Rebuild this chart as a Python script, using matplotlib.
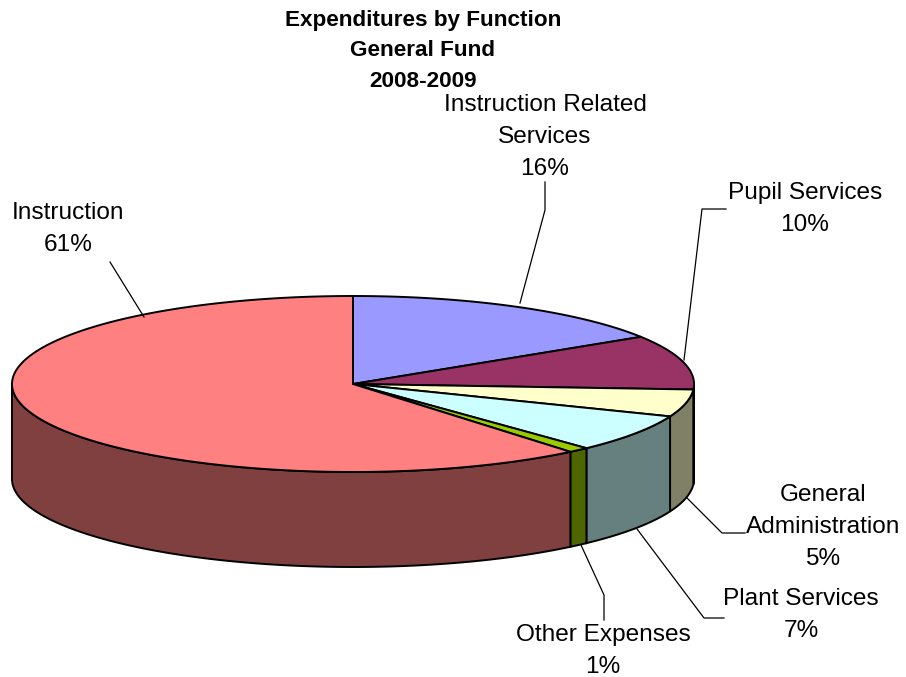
import numpy as np
import matplotlib
matplotlib.use('Agg')
import matplotlib.pyplot as plt
from matplotlib.patches import Polygon

plt.rcParams['font.family'] = ['Liberation Sans', 'DejaVu Sans']

# Data
categories = ['Instruction Related\nServices', 'Pupil Services', 'General\nAdministration',
              'Plant Services', 'Other Expenses', 'Instruction']
values = [16, 10, 5, 7, 1, 61]
top_colors = ['#9999FF', '#993366', '#FFFFCC', '#CCFFFF', '#99CC00', '#FF8080']
side_colors = ['#4D4D80', '#2A0A18', '#808066', '#668080', '#4D6600', '#804040']

# label centre and leader line ends, in pixels
label_pos = [(545, 137), (805, 209), (823, 527), (801, 615), (603, 651), (68, 229)]
leaders = [
    [(545, 182), (545, 210), (520, 303)],
    [(726, 209), (702, 209), (684, 360)],
    [(745, 533), (722, 533), (687, 498)],
    [(724, 618), (704, 618), (637, 529)],
    [(604, 620), (604, 595), (581, 545)],
    [(110, 262), (144, 317)],
]

cx, cy = 353, 384
rx, ry = 341, 88
depth = 95

fig = plt.figure(figsize=(9.06, 6.77), dpi=100)
ax = fig.add_axes([0, 0, 1, 1])
ax.set_xlim(0, 906)
ax.set_ylim(677, 0)
ax.axis('off')


def rim(t0, t1, n=200):
    t = np.radians(np.linspace(t0, t1, n))
    return cx + rx * np.sin(t), cy - ry * np.cos(t)


edges = np.cumsum([0] + values) * 3.6

# walls of the pie first
for i in range(len(values)):
    t0, t1 = edges[i], edges[i + 1]
    # only the front half (90..270 degrees) has a visible wall
    a, b = max(t0, 90), min(t1, 270)
    if a >= b:
        continue
    x, y = rim(a, b)
    pts = np.vstack([np.column_stack([x, y]), np.column_stack([x[::-1], y[::-1] + depth])])
    ax.add_patch(Polygon(pts, closed=True, fc=side_colors[i], ec='black', lw=1.4, zorder=2))

# top of the pie
for i in range(len(values)):
    x, y = rim(edges[i], edges[i + 1])
    pts = np.vstack([[cx, cy], np.column_stack([x, y])])
    ax.add_patch(Polygon(pts, closed=True, fc=top_colors[i], ec='black', lw=1.4, zorder=3))

for line in leaders:
    xs, ys = zip(*line)
    ax.plot(xs, ys, color='black', lw=0.9, zorder=4)

for name, v, (lx, ly) in zip(categories, values, label_pos):
    ax.text(lx, ly, f'{name}\n{v}%', ha='center', va='center', fontsize=17.6,
            linespacing=1.58, color='black', zorder=5)

ax.text(423, 51, 'Expenditures by Function\nGeneral Fund\n2008-2009', ha='center', va='center',
        fontsize=16.2, fontweight='bold', linespacing=1.6)

fig.savefig('out.png', dpi=100)
